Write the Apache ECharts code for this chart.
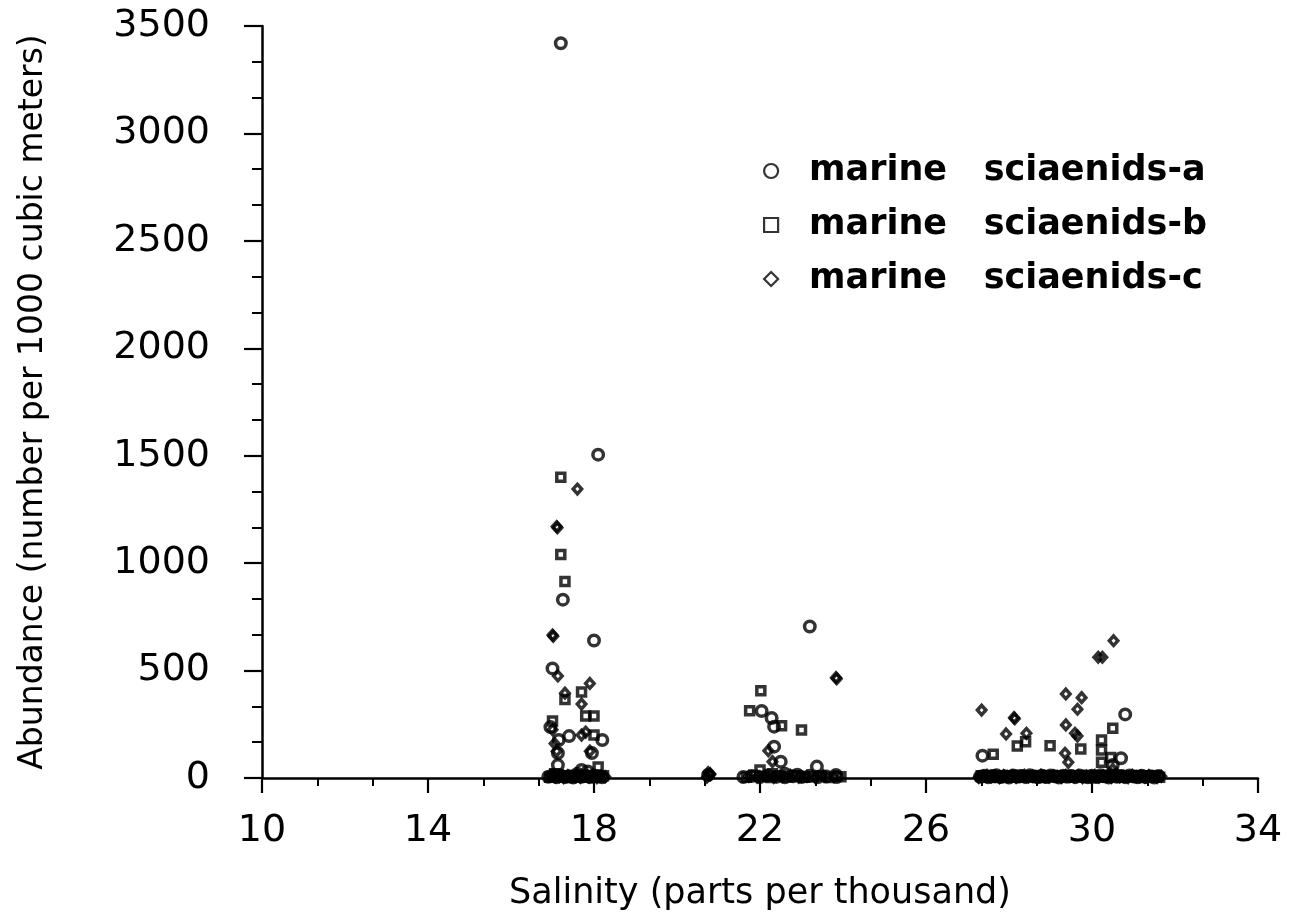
<!DOCTYPE html>
<html>
<head>
<meta charset="utf-8">
<script src="https://cdn.jsdelivr.net/npm/echarts@6/dist/echarts.min.js"></script>
<style>html,body{margin:0;padding:0;background:#fff}#c{width:1291px;height:922px}</style>
</head>
<body>
<div id="c"></div>
<script>
// ---- data (salinity, abundance) ----
const xTicks = [10, 14, 18, 22, 26, 30, 34];
const yTicks = [0, 500, 1000, 1500, 2000, 2500, 3000, 3500];
const seriesNames = ['marine   sciaenids-a', 'marine   sciaenids-b', 'marine   sciaenids-c'];

const sciaenidsA = [
  [17.2, 3420], [18.1, 1505], [17.25, 830], [18.0, 640], [17.0, 510],
  [16.95, 237], [17.15, 177], [17.4, 195], [18.2, 177], [17.13, 116],
  [17.95, 116], [17.13, 60], [17.7, 37], [17.85, 30], [17.6, 20],
  [23.2, 705], [22.04, 312], [22.28, 279], [22.34, 239], [22.34, 146],
  [22.5, 76], [23.37, 53], [23.83, 14], [22.6, 20], [22.9, 15],
  [30.8, 296], [27.36, 104], [30.7, 92], [30.5, 60],
  [16.9, 6], [17.0, 10], [17.1, 3], [17.2, 12], [17.3, 5], [17.4, 8], [17.5, 2], [17.6, 11], [17.7, 6], [17.8, 9], [17.9, 4], [18.0, 12], [18.1, 7], [18.2, 3],
  [20.75, 14], [21.6, 5], [21.8, 9], [22.0, 4], [22.2, 12], [22.4, 6], [22.6, 3], [22.8, 8], [23.0, 5], [23.2, 10], [23.4, 4], [23.6, 7], [23.85, 5],
  [27.3, 6], [27.4, 11], [27.5, 3], [27.6, 9], [27.7, 13], [27.8, 5], [27.9, 8], [28.0, 2], [28.1, 12], [28.2, 6], [28.3, 9],
  [28.4, 4], [28.5, 13], [28.6, 7], [28.7, 3], [28.8, 10], [28.9, 5], [29.0, 12], [29.1, 8], [29.2, 2], [29.3, 11], [29.4, 6],
  [29.5, 9], [29.6, 4], [29.7, 12], [29.8, 7], [29.9, 3], [30.0, 10], [30.1, 5], [30.2, 13], [30.3, 8], [30.4, 2], [30.5, 11],
  [30.6, 6], [30.7, 9], [30.8, 4], [30.9, 12], [31.0, 7], [31.1, 3], [31.2, 10], [31.3, 5], [31.4, 8], [31.5, 2], [31.6, 9]
];

const sciaenidsB = [
  [17.2, 1400], [17.2, 1040], [17.3, 915], [17.3, 365], [17.7, 400],
  [17.8, 289], [18.0, 289], [17.0, 265], [18.0, 200], [18.1, 51], [17.05, 20],
  [22.02, 406], [21.75, 313], [22.52, 243], [23.0, 223], [22.0, 37], [22.3, 20],
  [30.5, 231], [28.4, 169], [28.2, 149], [28.99, 150], [29.73, 135],
  [30.23, 177], [30.23, 130], [27.62, 110], [30.23, 73], [30.45, 95],
  [16.93, 3], [17.03, 8], [17.13, 12], [17.23, 5], [17.33, 9], [17.43, 2], [17.53, 10], [17.63, 4], [17.73, 7], [17.83, 12], [17.93, 3], [18.03, 9], [18.13, 5], [18.23, 11],
  [21.67, 3], [21.87, 12], [22.07, 7], [22.27, 2], [22.47, 9], [22.67, 5], [22.87, 11], [23.07, 3], [23.27, 6], [23.47, 9], [23.67, 2], [23.95, 6],
  [27.33, 10], [27.43, 4], [27.53, 12], [27.63, 7], [27.73, 2], [27.83, 11], [27.93, 5], [28.03, 9], [28.13, 3], [28.23, 13], [28.33, 6],
  [28.43, 10], [28.53, 4], [28.63, 8], [28.73, 12], [28.83, 2], [28.93, 9], [29.03, 6], [29.13, 11], [29.23, 4], [29.33, 8], [29.43, 13],
  [29.53, 3], [29.63, 7], [29.73, 10], [29.83, 5], [29.93, 12], [30.03, 2], [30.13, 8], [30.23, 11], [30.33, 4], [30.43, 9], [30.53, 6],
  [30.63, 13], [30.73, 3], [30.83, 10], [30.93, 5], [31.03, 8], [31.13, 12], [31.23, 2], [31.33, 9], [31.43, 6], [31.53, 11], [31.63, 4]
];

const sciaenidsC = [
  [17.6, 1345], [17.1, 1170], [17.12, 1165], [17.0, 665], [17.02, 660], [17.13, 475], [17.9, 440],
  [17.3, 395], [17.7, 344], [17.0, 225], [17.7, 200], [17.8, 214],
  [17.1, 125], [17.9, 125], [17.05, 160],
  [23.83, 467], [23.85, 462], [22.2, 127], [22.3, 76], [20.75, 25], [20.8, 15],
  [30.52, 639], [30.15, 562], [30.25, 562], [27.34, 316], [29.37, 391],
  [29.75, 374], [29.65, 320], [28.12, 281], [28.14, 276], [29.37, 247], [29.59, 208],
  [29.65, 195], [27.93, 205], [28.42, 208], [29.35, 115], [29.43, 73], [30.5, 40],
  [16.97, 12], [17.07, 5], [17.17, 8], [17.27, 2], [17.37, 11], [17.47, 6], [17.57, 9], [17.67, 3], [17.77, 12], [17.87, 5], [17.97, 8], [18.07, 2], [18.17, 10], [18.27, 6],
  [20.72, 4], [20.8, 20], [21.73, 8], [21.93, 4], [22.13, 10], [22.33, 3], [22.53, 7], [22.73, 12], [22.93, 4], [23.13, 8], [23.33, 3], [23.53, 10], [23.78, 6],
  [27.27, 3], [27.37, 8], [27.47, 12], [27.57, 5], [27.67, 9], [27.77, 2], [27.87, 11], [27.97, 6], [28.07, 10], [28.17, 3], [28.27, 7],
  [28.37, 12], [28.47, 5], [28.57, 9], [28.67, 2], [28.77, 13], [28.87, 6], [28.97, 4], [29.07, 10], [29.17, 7], [29.27, 3], [29.37, 12],
  [29.47, 8], [29.57, 5], [29.67, 11], [29.77, 2], [29.87, 9], [29.97, 6], [30.07, 12], [30.17, 4], [30.27, 10], [30.37, 7], [30.47, 3],
  [30.57, 11], [30.67, 5], [30.77, 8], [30.87, 2], [30.97, 12], [31.07, 6], [31.17, 9], [31.27, 4], [31.37, 11], [31.47, 7], [31.57, 3], [31.67, 8]
];

const FONT = 'DejaVu Sans';
const outline = { color: 'rgba(255,255,255,0)', borderColor: '#000', borderWidth: 3.5 };

const chart = echarts.init(document.getElementById('c'));
chart.setOption({
  animation: false,
  backgroundColor: '#fff',
  grid: { left: 262, right: 33, top: 26, bottom: 144, containLabel: false },
  legend: {
    orient: 'vertical',
    left: 758,
    top: 148,
    itemWidth: 14,
    itemHeight: 14,
    itemGap: 18,
    data: seriesNames,
    itemStyle: { borderWidth: 2.2 },
    textStyle: { fontFamily: FONT, fontWeight: 'bold', fontSize: 35, lineHeight: 36, color: '#000', padding: [0, 0, 0, 26] }
  },
  xAxis: {
    type: 'value',
    min: xTicks[0], max: xTicks[xTicks.length - 1], interval: 4,
    name: 'Salinity (parts per thousand)',
    nameLocation: 'middle', nameGap: 98,
    nameTextStyle: { fontFamily: FONT, fontSize: 35, color: '#000' },
    axisLine: { show: true, onZero: false, lineStyle: { color: '#000', width: 2.5 } },
    axisTick: { show: true, inside: false, length: 15, lineStyle: { color: '#000', width: 2.2 } },
    minorTick: { show: true, splitNumber: 3, length: 8, lineStyle: { color: '#000', width: 2 } },
    splitLine: { show: false },
    axisLabel: { fontFamily: FONT, fontSize: 38, color: '#000', margin: 34, formatter: v => String(v) }
  },
  yAxis: {
    type: 'value',
    min: yTicks[0], max: yTicks[yTicks.length - 1], interval: 500,
    name: 'Abundance (number per 1000 cubic meters)',
    nameLocation: 'middle', nameGap: 212,
    nameTextStyle: { fontFamily: FONT, fontSize: 33, color: '#000' },
    axisLine: { show: true, lineStyle: { color: '#000', width: 2.5 } },
    axisTick: { show: true, inside: false, length: 18, lineStyle: { color: '#000', width: 2.2 } },
    minorTick: { show: true, splitNumber: 3, length: 10, lineStyle: { color: '#000', width: 2 } },
    splitLine: { show: false },
    axisLabel: { fontFamily: FONT, fontSize: 38, color: '#000', margin: 52, formatter: v => String(v) }
  },
  series: [
    { name: seriesNames[0], type: 'scatter', symbol: 'circle', symbolSize: 10.5, data: sciaenidsA, itemStyle: outline },
    { name: seriesNames[1], type: 'scatter', symbol: 'rect', symbolSize: 8, data: sciaenidsB, itemStyle: outline },
    { name: seriesNames[2], type: 'scatter', symbol: 'diamond', symbolSize: [8.5, 9.5], data: sciaenidsC, itemStyle: outline }
  ]
});
</script>
</body>
</html>
